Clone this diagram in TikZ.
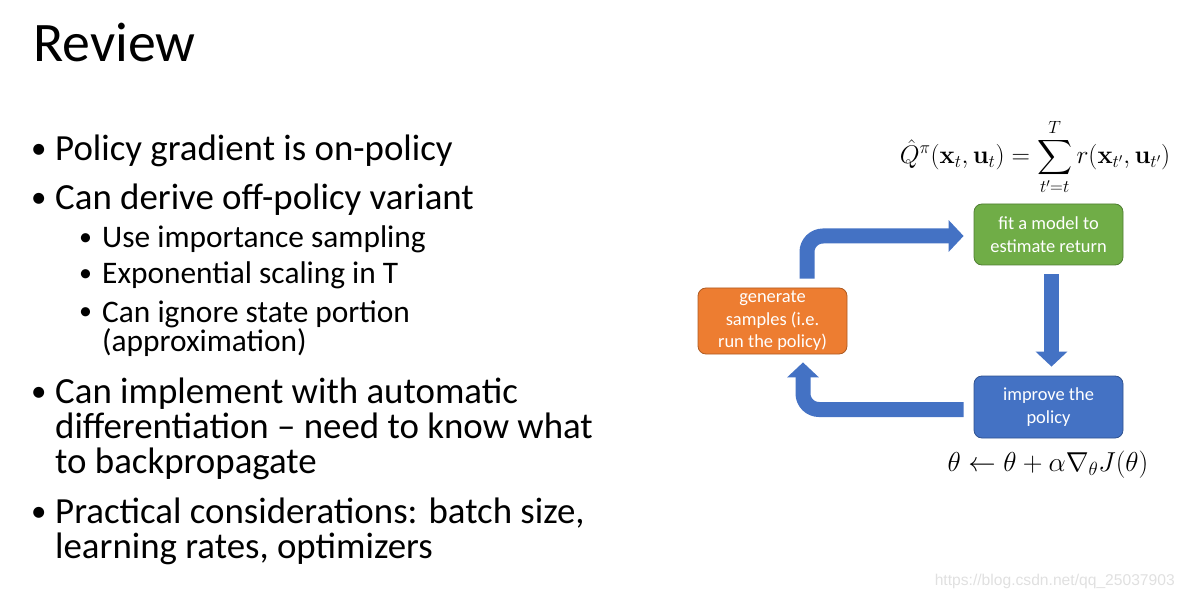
\documentclass[tikz,border=0pt]{standalone}
\usepackage[no-math]{fontspec}
\usepackage{amsmath,amssymb}
\setmainfont{Carlito}
\newfontfamily\urlfont{Liberation Sans}
\usetikzlibrary{arrows.meta}
\definecolor{office orange}{RGB}{237,125,49}
\definecolor{office orange line}{RGB}{174,90,33}
\definecolor{office green}{RGB}{112,173,71}
\definecolor{office green line}{RGB}{80,126,50}
\definecolor{office blue}{RGB}{68,114,196}
\definecolor{office blue line}{RGB}{47,82,143}
\definecolor{mark gray}{RGB}{224,224,224}

\tikzset{
	stepbox/.style = {rounded corners = 8bp, line width = 0.8bp, minimum width = 149bp,
		align = center, text = white, inner sep = 0pt, font = \fontsize{18.5}{22.5}\selectfont},
	loop arrow/.style = {office blue, line width = 15bp, rounded corners = 16bp,
		-{Triangle[length = 15bp, width = 31bp]}},
	mainline/.style = {anchor = base west, inner sep = 0pt, align = left, font = \fontsize{37}{35}\selectfont},
	subline/.style = {anchor = base west, inner sep = 0pt, align = left, font = \fontsize{31.5}{30}\selectfont},
	maindot/.style = {anchor = base west, inner sep = 0pt, font = \fontsize{31}{31}\selectfont},
	subdot/.style = {anchor = base west, inner sep = 0pt, font = \fontsize{26}{26}\selectfont}
}

\begin{document}
\begin{tikzpicture}[x = 1bp, y = -1bp]
			\useasboundingbox (0, 0) rectangle (1184, 597);
			% Title
			\node (title) [anchor = base west, inner sep = 0pt, font = \fontsize{56}{60}\selectfont] at (33, 62) {Review};
			% Bullet list (multi-line items sit on the baseline of their last line)
			\begin{scope}
				\node (dot1) [maindot] at (31, 159) {•};
				\node (item1) [mainline] at (55, 161) {Policy gradient is on-policy};
				\node (dot2) [maindot] at (31, 208) {•};
				\node (item2) [mainline] at (55, 210) {Can derive off-policy variant};
				\node (dot21) [subdot] at (79, 246) {•};
				\node (item21) [subline] at (102, 248) {Use importance sampling};
				\node (dot22) [subdot] at (79, 282) {•};
				\node (item22) [subline] at (102, 284) {Exponential scaling in T};
				\node (dot23) [subdot] at (79, 320) {•};
				\node (item23) [subline] at (102, 352) {Can ignore state portion\\(approximation)};
				\node (dot3) [maindot] at (31, 401) {•};
				\node (item3) [mainline] at (55, 473) {Can implement with automatic\\differentiation – need to know what\\to backpropagate};
				\node (dot4) [maindot] at (31, 521) {•};
				\node (item4) [mainline] at (55, 558) {Practical considerations: batch size,\\learning rates, optimizers};
			\end{scope}
			% Loop of the algorithm
			\begin{scope}
				\node (gen) [stepbox, fill = office orange, draw = office orange line, minimum height = 66bp]
					at (772.5, 321) {generate\\samples (i.e.\\run the policy)};
				\node (fit) [stepbox, fill = office green, draw = office green line, minimum height = 61bp]
					at (1048.5, 234.5) {fit a model to\\estimate return};
				\node (imp) [stepbox, fill = office blue, draw = office blue line, minimum height = 62bp]
					at (1048.5, 407) {improve the\\policy};
				\draw[loop arrow] ([xshift = 34.5bp, yshift = 9bp]gen.north) |- ([xshift = -10bp, yshift = -1.5bp]fit.west);
				\draw[loop arrow, rounded corners = 0pt] ([xshift = 3bp, yshift = -9bp]fit.south) -- ([xshift = 3bp, yshift = 9bp]imp.north);
				\draw[loop arrow] ([xshift = -10bp, yshift = -2.5bp]imp.west) -| ([xshift = 30.5bp, yshift = -8bp]gen.south);
			\end{scope}
			% Formulas
			\node (qhat) [inner sep = 0pt, scale = 1.03, font = \fontsize{23.7}{26}\selectfont] at (1035, 157)
				{$\displaystyle \hat{Q}^{\pi}(\mathbf{x}_t, \mathbf{u}_t) = \sum_{t' = t}^{T} r(\mathbf{x}_{t'}, \mathbf{u}_{t'})$};
			\node (update) [inner sep = 0pt, scale = 1.105, font = \fontsize{25.4}{28}\selectfont] at (1048, 465)
				{$\theta \leftarrow \theta + \alpha \nabla_{\theta} J(\theta)$};
			% Watermark
			\node (mark) [anchor = base east, inner sep = 0pt, text = mark gray, font = \urlfont\fontsize{15.7}{18}\selectfont]
				at (1175, 585) {https://blog.csdn.net/qq\_25037903};
		\end{tikzpicture}
\end{document}
